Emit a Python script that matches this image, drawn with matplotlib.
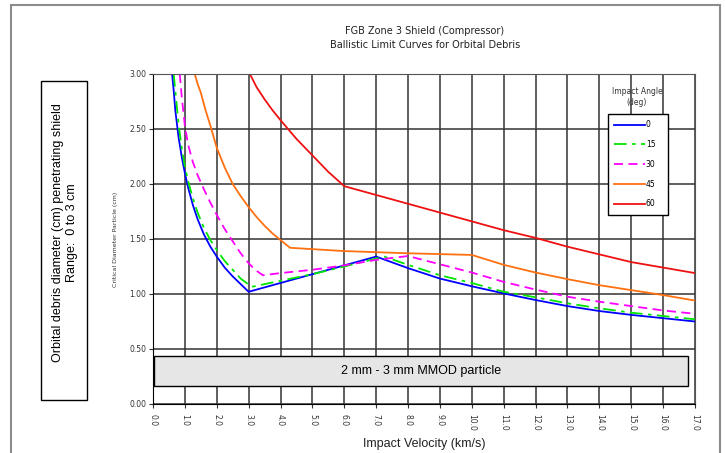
import numpy as np
import matplotlib
matplotlib.use("Agg")
import matplotlib.pyplot as plt
from matplotlib.patches import Rectangle

# curves: impact velocity (km/s) -> critical diameter (cm)
v_0 = [0.60, 0.65, 0.7, 0.8, 0.9, 1.0, 1.1, 1.25, 1.4, 1.6, 1.8, 2.0, 2.25,
       2.5, 2.75, 3.0, 4.0, 5.0, 6.0, 7.0,
       8.0, 9.0, 10.0, 11.0, 12.0, 13.0, 14.0, 15.0, 16.0, 17.0]
d_0 = [3.00, 2.85, 2.67, 2.43, 2.25, 2.10, 1.97, 1.81, 1.68, 1.54, 1.43, 1.34, 1.24,
       1.16, 1.09, 1.02, 1.10, 1.18, 1.26, 1.34,
       1.235, 1.14, 1.07, 1.005, 0.945, 0.89, 0.845, 0.81, 0.78, 0.75]

v_15 = [0.65, 0.7, 0.8, 0.9, 1.0, 1.1, 1.25, 1.4, 1.6, 1.8, 2.0, 2.25,
        2.5, 2.75, 3.1, 4.0, 5.0, 6.0, 7.25,
        8.0, 9.0, 10.0, 11.0, 12.0, 13.0, 14.0, 15.0, 16.0, 17.0]
d_15 = [3.00, 2.85, 2.55, 2.33, 2.16, 2.03, 1.87, 1.74, 1.60, 1.49, 1.40, 1.30,
        1.22, 1.14, 1.065, 1.12, 1.18, 1.25, 1.34,
        1.265, 1.17, 1.10, 1.02, 0.97, 0.915, 0.87, 0.83, 0.80, 0.77]

v_30 = [0.84, 0.9, 1.0, 1.1, 1.25, 1.4, 1.6, 1.8, 2.0, 2.25, 2.5, 2.75,
        3.0, 3.2, 3.45, 4.0, 5.0, 6.0, 7.0,
        8.0, 9.0, 10.0, 11.0, 12.0, 13.0, 14.0, 15.0, 16.0, 17.0]
d_30 = [3.00, 2.80, 2.53, 2.36, 2.20, 2.08, 1.95, 1.83, 1.72, 1.59, 1.48, 1.37,
        1.28, 1.22, 1.17, 1.19, 1.22, 1.26, 1.31,
        1.345, 1.27, 1.195, 1.11, 1.04, 0.975, 0.93, 0.89, 0.85, 0.82]

v_45 = [1.31, 1.4, 1.5, 1.65, 1.8, 2.0, 2.25, 2.5, 2.75, 3.0, 3.25, 3.5,
        3.75, 4.0, 4.3, 6.0, 8.0,
        10.0, 11.0, 12.0, 13.0, 14.0, 15.0, 16.0, 17.0]
d_45 = [3.00, 2.91, 2.83, 2.67, 2.53, 2.33, 2.15, 2.00, 1.89, 1.79, 1.70, 1.62,
        1.55, 1.49, 1.42, 1.39, 1.37,
        1.355, 1.265, 1.195, 1.135, 1.08, 1.035, 0.99, 0.94]

v_60 = [3.04, 3.25, 3.5, 3.75, 4.0, 4.5, 5.0, 5.5, 6.0, 7.0, 8.0, 9.0, 10.0,
        11.0, 12.0, 13.0, 14.0, 15.0, 16.0, 17.0]
d_60 = [3.00, 2.88, 2.77, 2.67, 2.58, 2.41, 2.26, 2.11, 1.98, 1.90, 1.82, 1.74, 1.66,
        1.58, 1.51, 1.43, 1.36, 1.29, 1.24, 1.19]

angles = ["0", "15", "30", "45", "60"]
x_ticks = np.arange(0, 18, 1)
y_ticks = np.arange(0, 3.01, 0.5)

fig = plt.figure(figsize=(7.25, 4.53), dpi=100)
ax = fig.add_axes([0.211, 0.1082, 0.7476, 0.7285])

# outer frame of the page
fig.patches.append(Rectangle((11 / 725, -0.05), 709 / 725, 1.039,
                             transform=fig.transFigure, fill=False,
                             edgecolor="#8c8c8c", linewidth=1.5))

ax.plot(v_0, d_0, color="#0000ff", lw=1.3, label=angles[0])
ax.plot(v_15, d_15, color="#00e600", lw=1.3, dashes=(7, 3, 2, 3), label=angles[1])
ax.plot(v_30, d_30, color="#ff00ff", lw=1.3, dashes=(5, 3), label=angles[2])
ax.plot(v_45, d_45, color="#ff7010", lw=1.3, label=angles[3])
ax.plot(v_60, d_60, color="#ee1111", lw=1.3, label=angles[4])

ax.set_xlim(0, 17)
ax.set_ylim(0, 3)
ax.set_xticks(x_ticks)
ax.set_xticklabels([f"{t:.1f}" for t in x_ticks], rotation=-90,
                   fontsize=5.5, color="#333333")
ax.set_yticks(y_ticks)
ax.set_yticklabels([f"{t:.2f}" for t in y_ticks], fontsize=5.5, color="#333333")
ax.tick_params(length=3, width=0.8, color="#333333", pad=2)
ax.tick_params(axis="x", pad=4)
ax.grid(True, color="#333333", lw=1.1)
for s in ax.spines.values():
    s.set_color("#555555")
ax.spines["left"].set_color("black")
ax.spines["bottom"].set_color("black")

ax.set_xlabel("Impact Velocity (km/s)", family="Liberation Sans",
              fontsize=9, color="#222222", labelpad=5)
ax.set_ylabel("Critical Diameter Particle (cm)", fontsize=4.5,
              color="#333333", labelpad=8)

fig.text(0.586, 0.917, "FGB Zone 3 Shield (Compressor)\nBallistic Limit Curves for Orbital Debris",
         ha="center", va="center", fontsize=7, color="#222222", linespacing=1.5)

# gray band for the particle range
ax.add_patch(Rectangle((0.02, 0.16), 16.75, 0.28, facecolor="#e6e6e6",
                       edgecolor="black", lw=1.0, zorder=3))
ax.text(8.4, 0.30, "2 mm - 3 mm MMOD particle", family="Liberation Sans",
        fontsize=9, ha="center", va="center", zorder=4)

# left note box
fig.patches.append(Rectangle((41 / 725, (453 - 400) / 453), 46 / 725, 319 / 453,
                             transform=fig.transFigure, fill=False,
                             edgecolor="black", lw=1.0))
fig.text(65 / 725, (453 - 233) / 453,
         "Orbital debris diameter (cm) penetrating shield\nRange:  0 to 3 cm",
         family="Liberation Sans", fontsize=9, rotation=90, linespacing=1.3,
         ha="center", va="center", multialignment="center")

leg = ax.legend(loc="upper left", bbox_to_anchor=(0.8395, 0.5, 0.1107, 0.3788),
                mode="expand", fontsize=5.5,
                frameon=True, fancybox=False, handlelength=4.0,
                handletextpad=0.1, labelspacing=1.4, borderpad=0.85,
                borderaxespad=0)
leg.get_frame().set_edgecolor("black")
leg.get_frame().set_linewidth(1.0)
leg.get_frame().set_alpha(1)
fig.text(637 / 725, (453 - 97) / 453, "Impact Angle\n(deg)", fontsize=5.5,
         ha="center", va="center", color="#333333")

fig.savefig("out.png", dpi=100)
